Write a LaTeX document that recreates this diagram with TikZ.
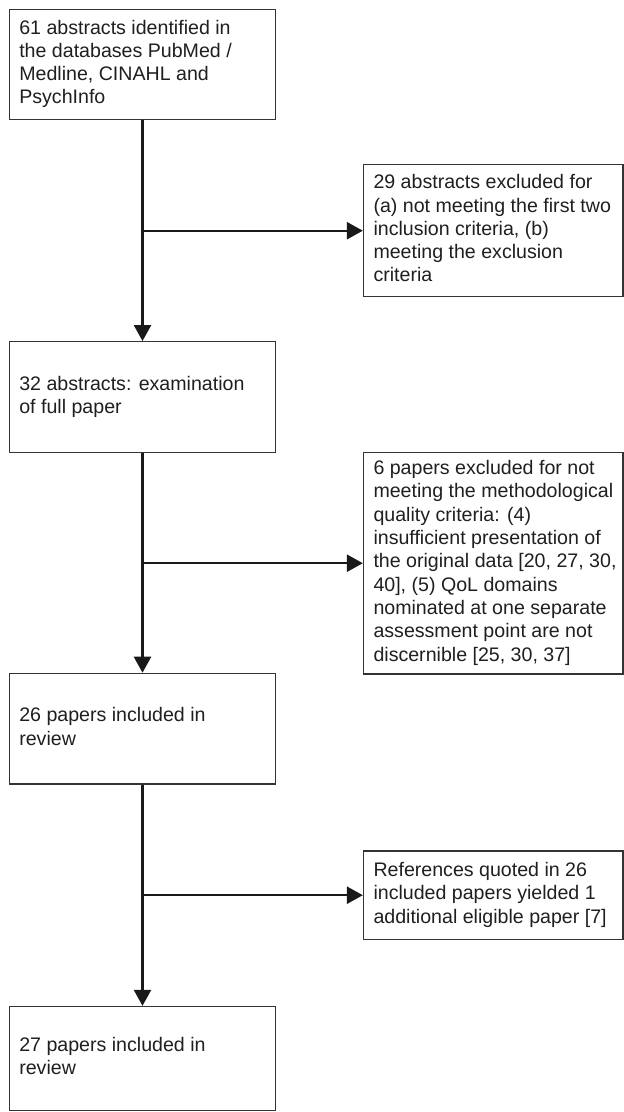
\documentclass[tikz,border=0pt]{standalone}
\usepackage{fontspec}
\setmainfont{Liberation Sans}
\usetikzlibrary{arrows.meta}
\newcommand{\LBtext}[1]{\makebox[246.4pt][l]{\begin{tabular}{@{}l@{}}#1\end{tabular}}}
\newcommand{\RBtext}[1]{\makebox[239.5pt][l]{\begin{tabular}{@{}l@{}}#1\end{tabular}}}
\begin{document}
\begin{tikzpicture}[x=1pt,y=-1pt,
  box/.style={draw=black!80, line width=1.3pt, rectangle, inner xsep=10pt, inner ysep=0pt, font=\fontsize{19.6}{23.3}\selectfont, text=black!88},
  lbox/.style={box, minimum width=266.4pt},
  rbox/.style={box, minimum width=259.5pt},
  flow/.style={line width=2.4pt, draw=black!90, -{Triangle[length=16pt,width=17pt]}}]
\useasboundingbox (0,0) rectangle (624,1112);

\node[lbox, minimum height=110pt] (b1) at (142.5,64.3) {\LBtext{61 abstracts identified in\\the databases PubMed /\\Medline, CINAHL and\\PsychInfo}};
\node[lbox, minimum height=110.6pt] (b2) at (142.5,397) {\LBtext{32 abstracts: examination\\of full paper}};
\node[lbox, minimum height=110.7pt] (b3) at (142.5,728.7) {\LBtext{26 papers included in\\review}};
\node[lbox, minimum height=104pt] (b4) at (142.5,1058.5) {\LBtext{27 papers included in\\review}};

\node[rbox, minimum height=132pt] (r1) at (493.25,230.7) {\RBtext{29 abstracts excluded for\\(a) not meeting the first two\\inclusion criteria, (b)\\meeting the exclusion\\criteria}};
\node[rbox, minimum height=221.7pt] (r2) at (493.25,563.2) {\RBtext{6 papers excluded for not\\meeting the methodological\\quality criteria: (4)\\insufficient presentation of\\the original data [20, 27, 30,\\40], (5) QoL domains\\nominated at one separate\\assessment point are not\\discernible [25, 30, 37]}};
\node[rbox, minimum height=88.3pt] (r3) at (493.25,895.2) {\RBtext{References quoted in 26\\included papers yielded 1\\additional eligible paper [7]}};

\coordinate (j1) at (b1.south |- r1.west);
\coordinate (j2) at (b2.south |- r2.west);
\coordinate (j3) at (b3.south |- r3.west);

\draw[flow] (b1.south) -- (b2.north);
\draw[flow] (b2.south) -- (b3.north);
\draw[flow] (b3.south) -- (b4.north);
\draw[flow] (j1) -- (r1.west);
\draw[flow] (j2) -- (r2.west);
\draw[flow] (j3) -- (r3.west);
\end{tikzpicture}
\end{document}
